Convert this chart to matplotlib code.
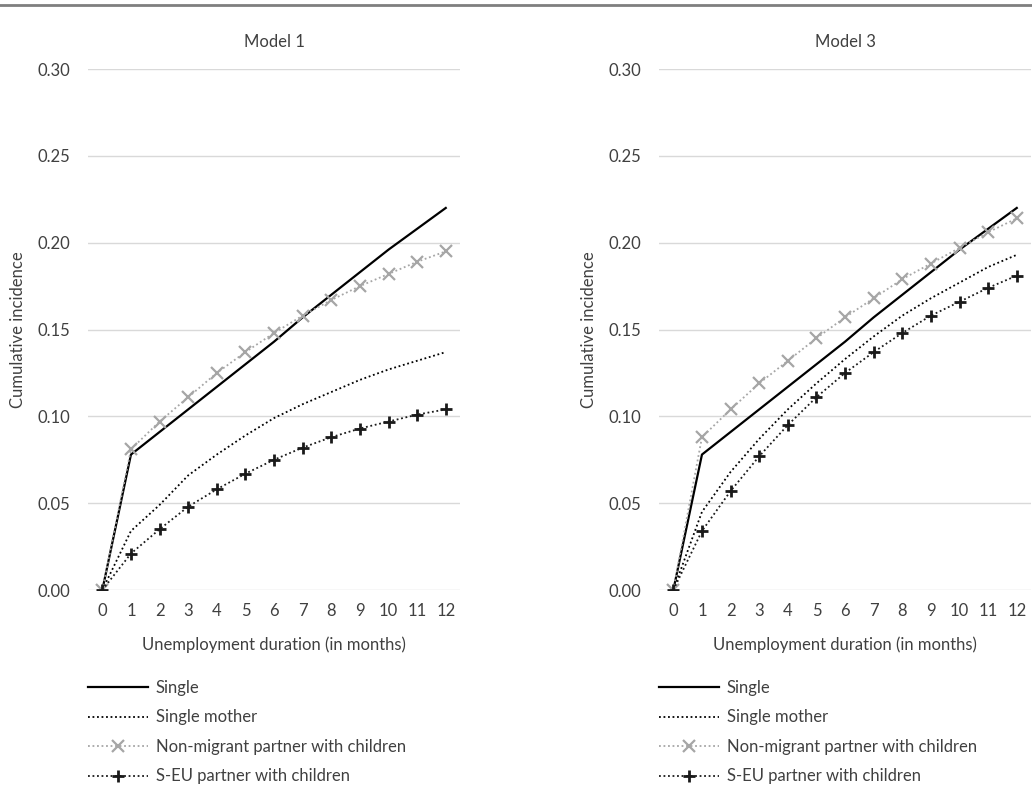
import matplotlib.pyplot as plt
from matplotlib.lines import Line2D

plt.rcParams['font.family'] = ['Lato', 'DejaVu Sans']

months = list(range(13))
series_names = ["Single", "Single mother",
                "Non-migrant partner with children", "S-EU partner with children"]

# Model 1
m1_single = [0, 0.078, 0.091, 0.104, 0.117, 0.130, 0.143, 0.157, 0.170, 0.183, 0.196, 0.208, 0.220]
m1_mother = [0, 0.034, 0.049, 0.066, 0.078, 0.089, 0.099, 0.107, 0.114, 0.121, 0.127, 0.132, 0.137]
m1_nonmig = [0, 0.081, 0.097, 0.111, 0.125, 0.137, 0.148, 0.158, 0.167, 0.175, 0.182, 0.189, 0.195]
m1_seu = [0, 0.021, 0.035, 0.048, 0.058, 0.067, 0.075, 0.082, 0.088, 0.093, 0.097, 0.101, 0.104]

# Model 3
m3_single = [0, 0.078, 0.091, 0.104, 0.117, 0.130, 0.143, 0.157, 0.170, 0.183, 0.196, 0.208, 0.220]
m3_mother = [0, 0.045, 0.068, 0.087, 0.104, 0.119, 0.133, 0.146, 0.158, 0.168, 0.177, 0.186, 0.193]
m3_nonmig = [0, 0.088, 0.104, 0.119, 0.132, 0.145, 0.157, 0.168, 0.179, 0.188, 0.197, 0.206, 0.214]
m3_seu = [0, 0.034, 0.057, 0.077, 0.095, 0.111, 0.125, 0.137, 0.148, 0.158, 0.166, 0.174, 0.181]

yticks = [0.00, 0.05, 0.10, 0.15, 0.20, 0.25, 0.30]

TXT = "#404040"
GREY = "#a6a6a6"
FS = 12

fig = plt.figure(figsize=(10.32, 7.87), dpi=100)
fig.add_artist(Line2D([0, 1], [0.9936, 0.9936], color="#7f7f7f", lw=2.0, transform=fig.transFigure))


def draw_panel(left, title, single, mother, nonmig, seu, leg_x):
    ax = fig.add_axes([left, 0.2503, 0.3605, 0.662])
    ax.plot(months, single, color="black", lw=1.6, ls="-", label=series_names[0])
    ax.plot(months, mother, color="black", lw=1.3, ls=(0, (1, 1.5)), label=series_names[1])
    ax.plot(months, nonmig, color=GREY, lw=1.3, ls=(0, (1, 1.5)), marker="x",
            ms=8, mew=1.6, label=series_names[2])
    ax.plot(months, seu, color="#1a1a1a", lw=1.3, ls=(0, (1, 1.5)), marker="+",
            ms=9, mew=2.0, label=series_names[3])

    ax.set_xlim(-0.5, 12.5)
    ax.set_ylim(0, 0.30)
    ax.set_xticks(months)
    ax.set_yticks(yticks)
    ax.set_yticklabels([f"{v:.2f}" for v in yticks])
    ax.grid(axis="y", color="#d9d9d9", lw=1.0)
    ax.set_axisbelow(True)
    for s in ax.spines.values():
        s.set_visible(False)
    ax.tick_params(length=0, labelsize=FS, colors=TXT, pad=9)
    ax.tick_params(axis="y", pad=13)
    ax.set_title(title, fontsize=FS, color=TXT, pad=16)
    ax.set_xlabel("Unemployment duration (in months)", fontsize=FS, color=TXT, labelpad=13)
    ax.set_ylabel("Cumulative incidence", fontsize=FS, color=TXT, labelpad=8)

    leg = fig.legend(*ax.get_legend_handles_labels(), loc="upper left",
                     bbox_to_anchor=(leg_x, 0.136), frameon=False, fontsize=FS,
                     handlelength=3.6, numpoints=1, labelspacing=0.81,
                     handletextpad=0.45, borderpad=0, borderaxespad=0)
    for t in leg.get_texts():
        t.set_color(TXT)
    return ax


draw_panel(0.0853, "Model 1", m1_single, m1_mother, m1_nonmig, m1_seu, 0.0853)
draw_panel(0.6386, "Model 3", m3_single, m3_mother, m3_nonmig, m3_seu, 0.6386)

fig.savefig("out.png", dpi=100)
